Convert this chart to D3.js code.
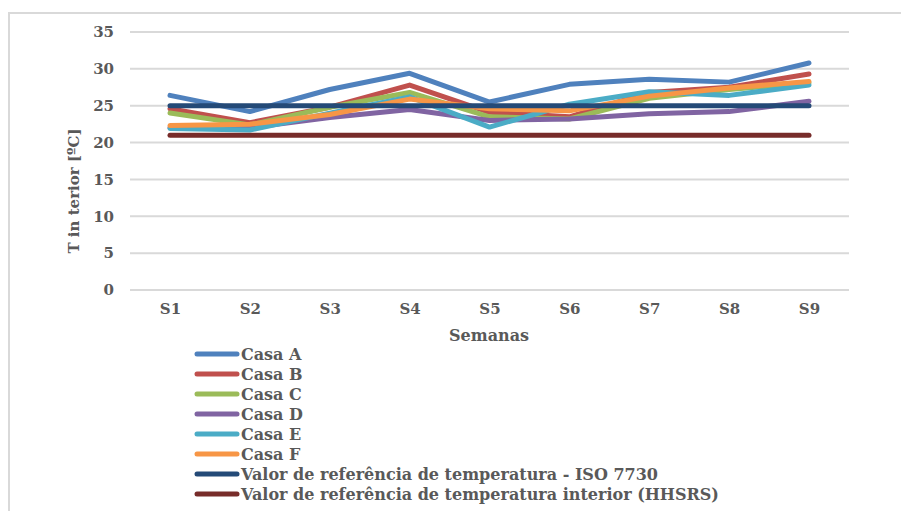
<!DOCTYPE html>
<html>
<head>
<meta charset="utf-8">
<script src="https://cdn.jsdelivr.net/npm/d3@7"></script>
<style>
  html, body { margin: 0; padding: 0; background: #fff; }
  svg { display: block; }
  text { font-family: "DejaVu Serif", "Liberation Serif", serif; font-weight: bold; fill: #595959; }
</style>
</head>
<body>
<svg id="chart" width="901" height="511"></svg>
<script>
// Weeks of monitoring
const weeks = ["S1", "S2", "S3", "S4", "S5", "S6", "S7", "S8", "S9"];
const yTicks = [0, 5, 10, 15, 20, 25, 30, 35];

// Mean indoor temperature per house (ºC)
const casaA = [26.4, 24.2, 27.2, 29.4, 25.5, 27.9, 28.6, 28.2, 30.8];
const casaB = [24.6, 22.7, 24.8, 27.8, 24.1, 23.5, 26.8, 27.5, 29.3];
const casaC = [24.0, 22.4, 24.8, 26.8, 23.5, 23.2, 26.0, 27.2, 28.1];
const casaD = [22.0, 22.0, 23.4, 24.5, 23.0, 23.2, 23.9, 24.2, 25.6];
const casaE = [21.9, 21.7, 24.0, 26.2, 22.1, 25.2, 26.9, 26.4, 27.8];
const casaF = [22.3, 22.5, 23.8, 25.9, 24.6, 24.3, 26.3, 27.4, 28.3];
// Reference values
const iso7730 = [25, 25, 25, 25, 25, 25, 25, 25, 25];
const hhsrs = [21, 21, 21, 21, 21, 21, 21, 21, 21];

const seriesNames = [
  "Casa A", "Casa B", "Casa C", "Casa D", "Casa E", "Casa F",
  "Valor de referência de temperatura - ISO 7730",
  "Valor de referência de temperatura interior (HHSRS)"
];
const seriesValues = [casaA, casaB, casaC, casaD, casaE, casaF, iso7730, hhsrs];
const seriesColors = ["#4f81bd", "#c0504d", "#9bbb59", "#8064a2", "#4bacc6", "#f79646", "#244a77", "#772c2a"];

const svg = d3.select("#chart");

// Chart frame (left and top edges visible)
svg.append("path")
  .attr("d", "M9,511 V13 H901")
  .attr("fill", "none")
  .attr("stroke", "#d9d9d9")
  .attr("stroke-width", 2);

const x = d3.scalePoint().domain(weeks).range([170, 809]);
const y = d3.scaleLinear().domain([0, 35]).range([290, 32]);
const plotLeft = 130, plotRight = 849;

// Horizontal gridlines
svg.append("g")
  .selectAll("line")
  .data(yTicks)
  .join("line")
  .attr("x1", plotLeft).attr("x2", plotRight)
  .attr("y1", d => y(d)).attr("y2", d => y(d))
  .attr("stroke", "#d9d9d9")
  .attr("stroke-width", 2);

// Y axis tick labels
const yAxis = svg.append("g")
  .attr("transform", `translate(${plotLeft},0)`)
  .call(d3.axisLeft(y).tickValues(yTicks).tickSize(0).tickPadding(16));
yAxis.select(".domain").remove();
yAxis.selectAll("text")
  .attr("font-size", 15)
  .attr("font-family", null)
  .attr("fill", "#595959");

// X axis tick labels
const xAxis = svg.append("g")
  .attr("transform", "translate(0,290)")
  .call(d3.axisBottom(x).tickSize(0).tickPadding(13));
xAxis.select(".domain").remove();
xAxis.selectAll("text")
  .attr("font-size", 15)
  .attr("font-family", null)
  .attr("fill", "#595959");

// Axis titles
svg.append("text")
  .attr("x", 489).attr("y", 341)
  .attr("text-anchor", "middle")
  .attr("font-size", 16)
  .text("Semanas");

svg.append("text")
  .attr("transform", "translate(79,191) rotate(-90)")
  .attr("text-anchor", "middle")
  .attr("font-size", 15)
  .text("T in terior [ºC]");

// Series lines
const line = d3.line()
  .x((d, i) => x(weeks[i]))
  .y(d => y(d));

svg.append("g")
  .selectAll("path")
  .data(seriesValues)
  .join("path")
  .attr("d", d => line(d))
  .attr("fill", "none")
  .attr("stroke", (d, i) => seriesColors[i])
  .attr("stroke-width", 5)
  .attr("stroke-linejoin", "round")
  .attr("stroke-linecap", "round");

// Legend
const legend = svg.append("g");
const rows = legend.selectAll("g")
  .data(seriesNames)
  .join("g")
  .attr("transform", (d, i) => `translate(0,${354 + i * 20})`);
rows.append("line")
  .attr("x1", 197).attr("x2", 237)
  .attr("stroke", (d, i) => seriesColors[i])
  .attr("stroke-width", 5)
  .attr("stroke-linecap", "round");
rows.append("text")
  .attr("x", 241).attr("y", 6)
  .attr("font-size", 16)
  .text(d => d);
</script>
</body>
</html>
